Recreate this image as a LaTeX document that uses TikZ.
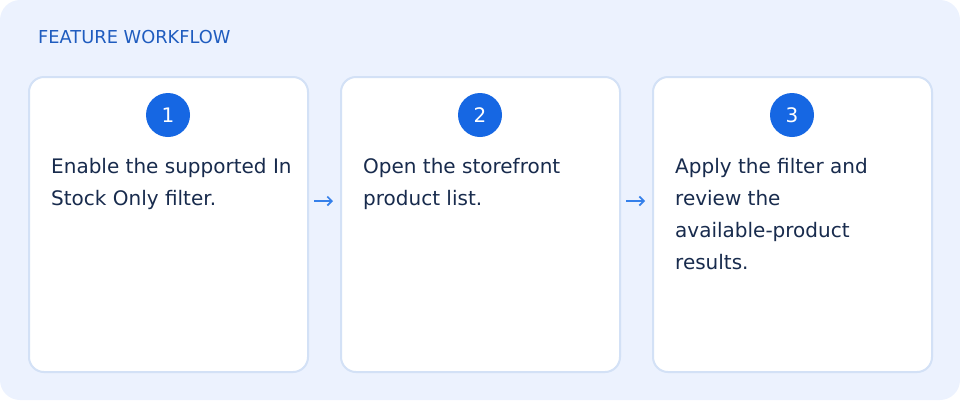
\documentclass[tikz,border=0pt]{standalone}
\usepackage{fontspec}
\setmainfont{DejaVu Sans}
\usetikzlibrary{arrows.meta}
\definecolor{bgblue}{HTML}{ECF2FE}
\definecolor{cardline}{HTML}{D3E1F6}
\definecolor{navy}{HTML}{182B4D}
\definecolor{badge}{HTML}{1667E3}
\definecolor{titleblue}{HTML}{1F5CBF}
\definecolor{arrowblue}{HTML}{3580EA}
\tikzset{
  card/.style={draw=cardline, line width=2pt, fill=white, rounded corners=15pt,
    minimum width=279pt, minimum height=295pt, inner sep=0pt, anchor=north west},
  badgestyle/.style={circle, fill=badge, minimum size=44pt, inner sep=0pt,
    text=white, font=\fontsize{20pt}{24pt}\selectfont},
  bodytext/.style={anchor=north west, inner sep=0pt, align=left, text=navy,
    font=\fontsize{20pt}{32pt}\selectfont},
  flowarrow/.style={draw=arrowblue, line width=1.7pt, -{Straight Barb[length=4.5pt,width=9pt]}}
}
\newcommand{\firststrut}{\rule{0pt}{16pt}}
\begin{document}
\begin{tikzpicture}[x=1pt,y=-1pt]
\useasboundingbox (0,0) rectangle (960,400);
\fill[bgblue, rounded corners=20pt] (0,0) rectangle (960,400);
\node[anchor=west, inner sep=0pt, text=titleblue, font=\fontsize{17.8pt}{20pt}\selectfont] (title) at (38,37) {FEATURE WORKFLOW};

\node[card] (c1) at (28,76) {};
\node[card] (c2) at (340,76) {};
\node[card] (c3) at (652,76) {};

\node[badgestyle] (b1) at (168,115) {1};
\node[badgestyle] (b2) at (480,115) {2};
\node[badgestyle] (b3) at (792,115) {3};

\node[bodytext] (t1) at (51,157) {\firststrut Enable the supported In\\Stock Only filter.};
\node[bodytext] (t2) at (363,157) {\firststrut Open the storefront\\product list.};
\node[bodytext] (t3) at (675,157) {\firststrut Apply the filter and\\review the\\available-product\\results.};

\draw[flowarrow] ([xshift=5pt,yshift=23.5pt]c1.east) -- ([xshift=-7pt,yshift=23.5pt]c2.west);
\draw[flowarrow] ([xshift=5pt,yshift=23.5pt]c2.east) -- ([xshift=-7pt,yshift=23.5pt]c3.west);
\end{tikzpicture}
\end{document}
